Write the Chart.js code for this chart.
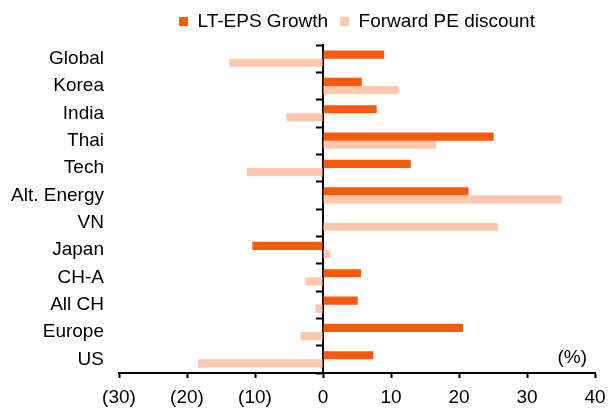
<!DOCTYPE html>
<html>
<head>
<meta charset="utf-8">
<script src="https://cdn.jsdelivr.net/npm/chart.js@4/dist/chart.umd.min.js"></script>
<style>
  html, body { margin: 0; padding: 0; background: #ffffff; }
  #wrap { width: 609px; height: 410px; position: relative; }
</style>
</head>
<body>
<div id="wrap"><canvas id="c"></canvas></div>
<script>
// ---- data ----
const categories = ['Global', 'Korea', 'India', 'Thai', 'Tech', 'Alt. Energy', 'VN', 'Japan', 'CH-A', 'All CH', 'Europe', 'US'];
const ltEpsGrowth = [9.0, 5.7, 7.9, 25.1, 12.9, 21.4, null, -10.4, 5.6, 5.1, 20.6, 7.4];
const forwardPeDiscount = [-13.8, 11.1, -5.4, 16.7, -11.2, 35.1, 25.7, 1.0, -2.6, -1.1, -3.3, -18.4];
const seriesNames = ['LT-EPS Growth', 'Forward PE discount'];
const xTickValues = [-30, -20, -10, 0, 10, 20, 30, 40];
const xTickLabels = ['(30)', '(20)', '(10)', '0', '10', '20', '30', '40'];
const unitLabel = '(%)';

const FONT = "'Liberation Sans', Arial, sans-serif";
const FS = 19;

const unitPlugin = {
  id: 'unitLabel',
  afterDraw(chart) {
    const { ctx, chartArea } = chart;
    ctx.save();
    ctx.font = FS + 'px ' + FONT;
    ctx.fillStyle = '#000';
    ctx.textAlign = 'right';
    ctx.textBaseline = 'middle';
    ctx.fillText(unitLabel, chartArea.right - 8, chartArea.bottom - 15);
    ctx.restore();
  }
};

// nudge the legend a little higher above the plot area
const legendShift = {
  id: 'legendShift',
  afterLayout(chart) {
    if (chart.legend) {
      chart.legend.top -= 4;
      chart.legend.bottom -= 4;
    }
  }
};

new Chart(document.getElementById('c'), {
  type: 'bar',
  data: {
    labels: categories,
    datasets: [
      { label: seriesNames[0], data: ltEpsGrowth, backgroundColor: '#F55A0D', borderWidth: 0,
        categoryPercentage: 0.6, barPercentage: 1.0 },
      { label: seriesNames[1], data: forwardPeDiscount, backgroundColor: '#FFC7AE', borderWidth: 0,
        categoryPercentage: 0.6, barPercentage: 1.0 }
    ]
  },
  options: {
    indexAxis: 'y',
    responsive: true,
    maintainAspectRatio: false,
    animation: false,
    devicePixelRatio: 1,
    layout: { padding: { left: 10, right: 14, top: 0, bottom: 0 } },
    plugins: {
      legend: {
        position: 'top',
        fullSize: false,
        align: 'center',
        labels: {
          boxWidth: 9, boxHeight: 9, padding: 12,
          color: '#000',
          font: { family: FONT, size: FS }
        }
      },
      tooltip: { enabled: false }
    },
    scales: {
      x: {
        type: 'linear',
        min: -30, max: 40,
        afterBuildTicks(scale) { scale.ticks = xTickValues.map(v => ({ value: v })); },
        afterFit(scale) { scale.height = 37; scale.paddingLeft = 0; scale.paddingRight = 0; },
        ticks: {
          color: '#000',
          font: { family: FONT, size: FS },
          padding: 8,
          maxRotation: 0,
          callback: (v) => xTickLabels[xTickValues.indexOf(v)]
        },
        grid: { drawOnChartArea: false, drawTicks: true, tickLength: 5, tickColor: '#000', tickWidth: 2 },
        border: { display: true, color: '#000', width: 2 }
      },
      y: {
        type: 'category',
        position: 'left',
        afterFit(scale) { scale.width = 109; scale.paddingTop = 45; scale.paddingBottom = 0; },
        ticks: { color: '#000', font: { family: FONT, size: FS }, padding: 15 },
        grid: { display: false, drawTicks: false },
        border: { display: false }
      },
      y2: {
        type: 'category',
        axis: 'y',
        labels: categories,
        position: { x: 0 },
        offset: true,
        z: 1,
        ticks: { display: false },
        grid: { offset: true, drawOnChartArea: false, drawTicks: true, tickLength: 6, tickColor: '#000', tickWidth: 2 },
        border: { display: true, color: '#000', width: 2 }
      }
    }
  },
  plugins: [unitPlugin, legendShift]
});
</script>
</body>
</html>
